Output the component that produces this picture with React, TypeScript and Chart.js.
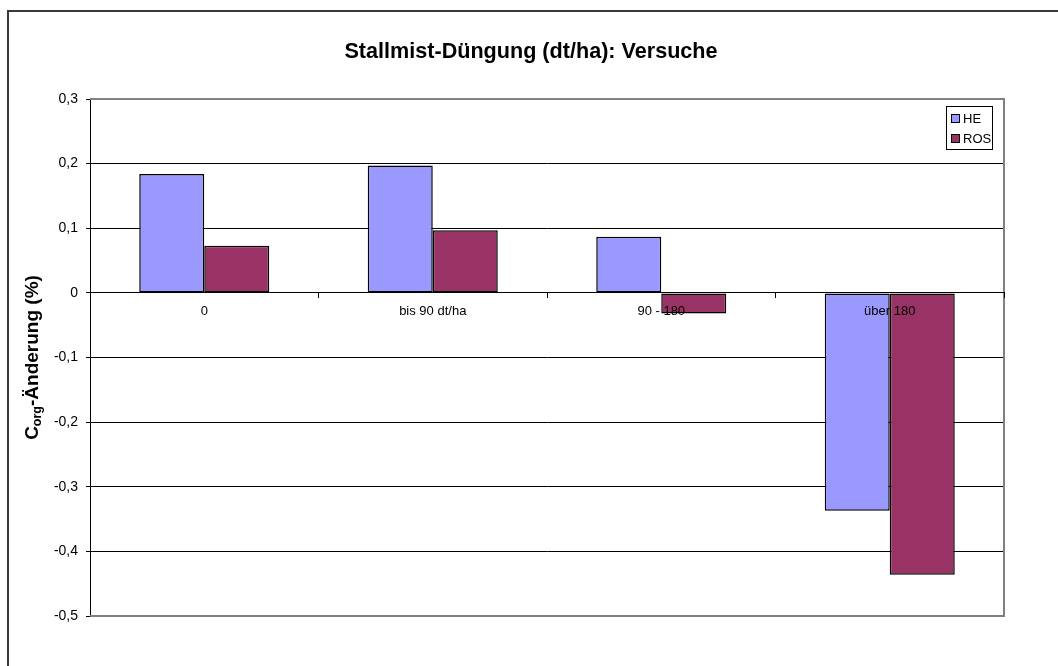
import React, { useEffect, useRef } from "react";
import { Chart, registerables } from "chart.js";

Chart.register(...registerables);

const categories = ["0", "bis 90 dt/ha", "90 - 180", "über 180"];
const seriesNames = ["HE", "ROS"];
const heValues = [0.184, 0.197, 0.087, -0.337];
const rosValues = [0.073, 0.097, -0.032, -0.436];
const seriesColors = ["#9999FF", "#993366"];
const yMin = -0.5;
const yMax = 0.3;
const yStep = 0.1;
const chartTitle = "Stallmist-Düngung (dt/ha): Versuche";
const yTitleMain = "C";
const yTitleSub = "org";
const yTitleRest = "-Änderung (%)";

const FONT = '"Liberation Sans", Arial, sans-serif';

const framePlugin = {
  id: "frame",
  beforeDraw(chart: any) {
    const { ctx, width, height } = chart;
    ctx.save();
    ctx.fillStyle = "#ffffff";
    ctx.fillRect(0, 0, width, height);
    ctx.fillStyle = "#3a3a3a";
    ctx.fillRect(7, 10, 2, height - 10);
    ctx.fillRect(7, 10, width - 7, 2);
    ctx.restore();
  },
  beforeDatasetsDraw(chart: any) {
    const { ctx, chartArea } = chart;
    const { left, right, top, bottom } = chartArea;
    ctx.save();
    ctx.strokeStyle = "#808080";
    ctx.lineWidth = 2;
    ctx.beginPath();
    ctx.moveTo(left, top);
    ctx.lineTo(right, top);
    ctx.lineTo(right, bottom);
    ctx.lineTo(left, bottom);
    ctx.stroke();
    ctx.restore();
  },
  afterDraw(chart: any) {
    const { ctx, chartArea } = chart;
    ctx.save();
    // main title
    ctx.fillStyle = "#000";
    ctx.font = `bold 21.6px ${FONT}`;
    ctx.textAlign = "center";
    ctx.textBaseline = "alphabetic";
    ctx.fillText(chartTitle, 531, 58);

    // y-axis title with subscript
    const cy = (chartArea.top + chartArea.bottom) / 2;
    ctx.translate(33, cy);
    ctx.rotate(-Math.PI / 2);
    const mainFont = `bold 19px ${FONT}`;
    const subFont = `bold 12.5px ${FONT}`;
    ctx.font = mainFont;
    const wC = ctx.measureText(yTitleMain).width;
    const wR = ctx.measureText(yTitleRest).width;
    ctx.font = subFont;
    const wS = ctx.measureText(yTitleSub).width;
    const total = wC + wS + wR;
    let x = -total / 2;
    ctx.textAlign = "left";
    ctx.textBaseline = "middle";
    ctx.font = mainFont;
    ctx.fillText(yTitleMain, x, 0);
    x += wC;
    ctx.font = subFont;
    ctx.fillText(yTitleSub, x, 5);
    x += wS;
    ctx.font = mainFont;
    ctx.fillText(yTitleRest, x, 0);
    ctx.setTransform(1, 0, 0, 1, 0, 0);

    // legend
    const bx = chartArea.right - 58;
    const by = 106;
    const bw = 46;
    const bh = 43;
    ctx.fillStyle = "#ffffff";
    ctx.fillRect(bx, by, bw, bh);
    ctx.strokeStyle = "#000";
    ctx.lineWidth = 1;
    ctx.strokeRect(bx + 0.5, by + 0.5, bw, bh);
    ctx.font = `13px ${FONT}`;
    ctx.textBaseline = "middle";
    ctx.textAlign = "left";
    seriesNames.forEach((name, i) => {
      const ry = by + 12 + i * 20;
      ctx.fillStyle = seriesColors[i];
      ctx.fillRect(bx + 5, ry - 4, 9, 9);
      ctx.strokeStyle = "#000";
      ctx.strokeRect(bx + 5.5, ry - 3.5, 8, 8);
      ctx.fillStyle = "#000";
      ctx.fillText(name, bx + 17, ry + 1);
    });
    ctx.restore();
  },
};

function fmt(v: number): string {
  const r = Math.round(v * 10) / 10;
  if (r === 0) return "0";
  return r.toFixed(1).replace(".", ",");
}

export default function App() {
  const ref = useRef<HTMLCanvasElement | null>(null);

  useEffect(() => {
    if (!ref.current) return;
    const chart = new Chart(ref.current, {
      type: "bar",
      data: {
        labels: categories,
        datasets: [
          {
            label: seriesNames[0],
            data: heValues,
            backgroundColor: seriesColors[0],
            borderColor: "#000",
            borderWidth: 1.5,
            borderSkipped: false,
            categoryPercentage: 0.569,
            barPercentage: 1.0,
          },
          {
            label: seriesNames[1],
            data: rosValues,
            backgroundColor: seriesColors[1],
            borderColor: "#000",
            borderWidth: 1.5,
            borderSkipped: false,
            categoryPercentage: 0.569,
            barPercentage: 1.0,
          },
        ],
      },
      options: {
        animation: false,
        responsive: false,
        devicePixelRatio: 1,
        layout: { padding: { left: 30, top: 99, right: 54, bottom: 50 } },
        plugins: {
          legend: { display: false },
          title: { display: false },
          tooltip: { enabled: false },
        },
        scales: {
          x: {
            position: { y: 0 } as any,
            offset: true,
            grid: {
              offset: true,
              drawOnChartArea: false,
              drawTicks: true,
              tickLength: 5,
              color: "#000",
              z: 1,
            },
            border: { display: true, color: "#000", width: 1, z: 1 },
            ticks: {
              z: 1,
              color: "#000",
              font: { family: FONT, size: 13 },
              padding: 6,
              maxRotation: 0,
              autoSkip: false,
            },
          },
          y: {
            min: yMin,
            max: yMax,
            afterFit: (s: any) => {
              s.width = 60;
            },
            grid: { color: "#000", tickLength: 4, lineWidth: 1 },
            border: { color: "#000", width: 1 },
            ticks: {
              stepSize: yStep,
              padding: 8,
              color: "#000",
              font: { family: FONT, size: 14 },
              callback: (v: any) => fmt(Number(v)),
            },
          },
        },
      },
      plugins: [framePlugin],
    });
    return () => chart.destroy();
  }, []);

  return (
    <div
      style={{
        position: "fixed",
        left: 0,
        top: 0,
        width: 1058,
        height: 666,
        background: "#fff",
        overflow: "hidden",
      }}
    >
      <canvas ref={ref} width={1058} height={666} style={{ display: "block" }} />
    </div>
  );
}
